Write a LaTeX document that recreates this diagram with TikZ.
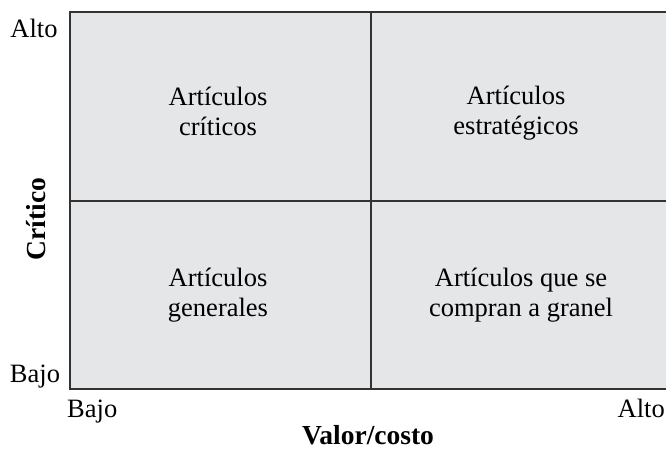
\documentclass[tikz,border=0pt]{standalone}
\usepackage{fontspec}
\setmainfont{Liberation Serif}
\usepackage{tikz}
\usetikzlibrary{positioning}

\definecolor{cellgray}{HTML}{E5E6E8}
\definecolor{gridline}{HTML}{333333}

\begin{document}
\begin{tikzpicture}[x=1pt, y=-1pt,
        every node/.style={font=\fontsize{26.5}{30}\selectfont, inner sep=0pt},
        cell/.style={align=center, anchor=base},
        axislabel/.style={font=\fontsize{27.5}{30}\selectfont\bfseries},
        grid/.style={draw=gridline, line width=2pt}]
      \useasboundingbox (0,0) rectangle (666,451);

        %%% Background of the four cells
        \fill[cellgray] (70,12) rectangle (666,389);
        \draw[grid] (666,12) -- (70,12) -- (70,389) -- (666,389);

        % Dividing lines
        \draw[grid] (371,12) -- (371,389);
        \draw[grid] (70,200.5) -- (666,200.5);

        %%% Cell labels (anchored on the baseline of the last line)
        \node[cell] (critico) at (218,135) {Artículos\\críticos};
        \node[cell] (estrategico) at (516,134) {Artículos\\estratégicos};
        \node[cell] (general) at (218,316) {Artículos\\generales};
        \node[cell] (granel) at (521,316) {Artículos que se\\compran a granel};

        %%% Vertical axis
        \node[anchor=base] (yalto) at (34,37) {Alto};
        \node[anchor=base] (ybajo) at (35,382.5) {Bajo};
        \node[axislabel, rotate=90, anchor=base] (ylabel) at (45,219) {Crítico};

        %%% Horizontal axis
        \node[anchor=base west] (xbajo) at (67,417) {Bajo};
        \node[anchor=base east] (xalto) at (665,417) {Alto};
        \node[axislabel, anchor=base] (xlabel) at (368,444.5) {Valor/costo};
      \end{tikzpicture}
\end{document}
